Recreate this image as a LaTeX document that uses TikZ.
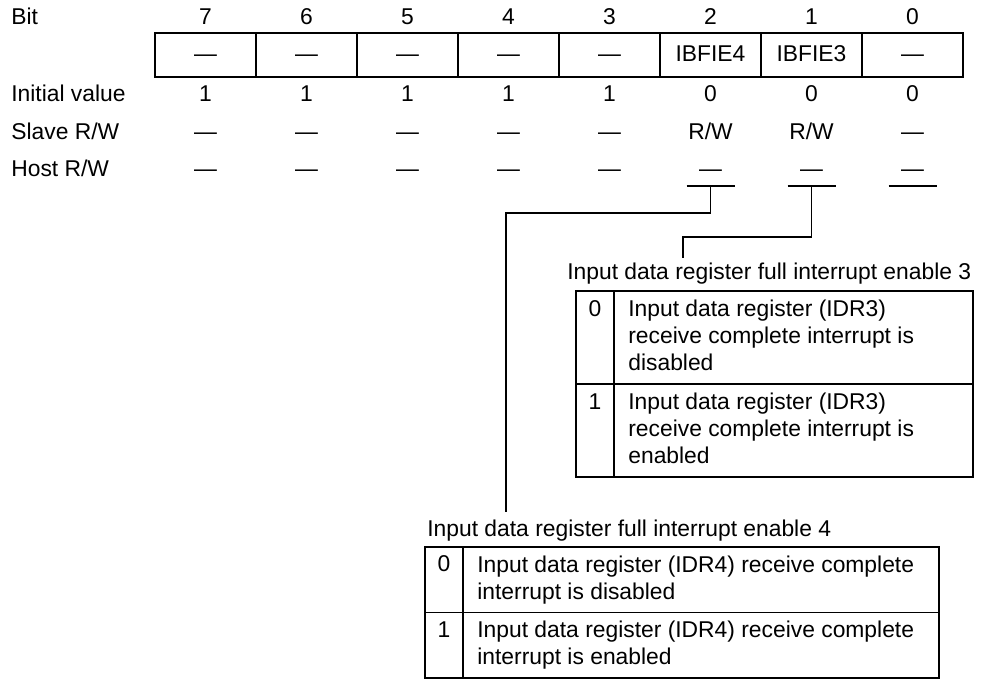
\documentclass[tikz,border=0pt]{standalone}
\usepackage{fontspec}
\setmainfont{Liberation Sans}
\usepackage{tikz}
\usetikzlibrary{positioning}

\begin{document}
\begin{tikzpicture}[x=0.02cm,y=-0.02cm,
  txt/.style={inner sep=0pt,text height=0.72em,text depth=0pt,font=\fontsize{13}{15.3}\selectfont},
  etiq/.style={txt,anchor=west},
  celda/.style={txt,draw,line width=0.6pt,minimum width=2.02cm,minimum height=0.88cm},
  parrafo/.style={inner sep=0pt,anchor=north west,align=left,font=\fontsize{13}{15.3}\selectfont},
  num/.style={inner sep=0pt,anchor=north,font=\fontsize{13}{15.3}\selectfont},
  linea/.style={line width=0.6pt}
]
  \useasboundingbox (0,0) rectangle (982,683);
  % row labels
  \node[etiq] (bit) at (11,18)  {Bit};
  \node[etiq] (ini) at (11,95)  {Initial value};
  \node[etiq] (esc) at (11,133) {Slave R/W};
  \node[etiq] (hst) at (11,170) {Host R/W};
  % register bits
  \foreach \b/\reg/\val/\rw in {7/—/1/—, 6/—/1/—, 5/—/1/—, 4/—/1/—, 3/—/1/—,
                                2/IBFIE4/0/{R/W}, 1/IBFIE3/0/{R/W}, 0/—/0/—}{
    \node[txt]   (b\b) at ({205.5+101*(7-\b)},18)  {\b};
    \node[celda] (r\b) at ({205.5+101*(7-\b)},55)  {\reg};
    \node[txt]   (i\b) at ({205.5+101*(7-\b)},95)  {\val};
    \node[txt]   (s\b) at ({205.5+101*(7-\b)},133) {\rw};
    \node[txt]   (h\b) at ({205.5+101*(7-\b)},170) {—};
  }
  \foreach \b in {2,1,0}{
    \coordinate (u\b) at ({205.5+101*(7-\b)},186);
    \draw[linea] ([xshift=-0.48cm]u\b) -- ([xshift=0.48cm]u\b);
  }
  % bit 1: IBFIE3
  \coordinate (e3) at (683,258);
  \draw[linea] (u1) -- ++(0,51) -| (e3);
  \node[etiq] (tit3) at (567,273) {Input data register full interrupt enable 3};
  \draw[linea] (576,291) rectangle (973,477) (614,291) -- (614,477) (576,384) -- (973,384);
  \node[num] (c30) at (595,300) {0};
  \node[parrafo] (d30) at (628,300) {Input data register (IDR3)\\receive complete interrupt is\\disabled};
  \node[num] (c31) at (595,393) {1};
  \node[parrafo] (d31) at (628,393) {Input data register (IDR3)\\receive complete interrupt is\\enabled};
  % bit 2: IBFIE4
  \coordinate (e4) at (506,512);
  \draw[linea] (u2) -- ++(0,27) -| (e4);
  \node[etiq] (tit4) at (427,530) {Input data register full interrupt enable 4};
  \draw[linea] (425,547) rectangle (939,678) (463,547) -- (463,678) (425,612.5) -- (939,612.5);
  \node[num] (c40) at (444,555.5) {0};
  \node[parrafo] (d40) at (477,555.5) {Input data register (IDR4) receive complete\\interrupt is disabled};
  \node[num] (c41) at (444,621) {1};
  \node[parrafo] (d41) at (477,621) {Input data register (IDR4) receive complete\\interrupt is enabled};
\end{tikzpicture}
\end{document}
